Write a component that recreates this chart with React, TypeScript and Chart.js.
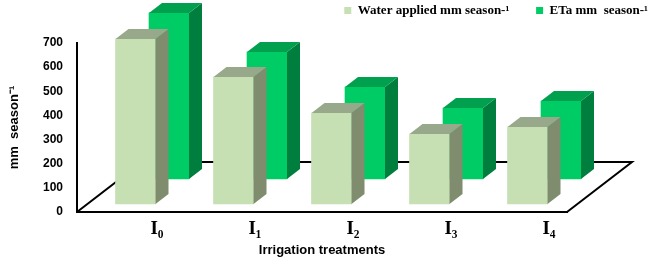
import { useEffect, useRef } from 'react';
import { Chart, registerables } from 'chart.js';

Chart.register(...registerables);

const categories = ['I₀', 'I₁', 'I₂', 'I₃', 'I₄'];
const waterApplied = [683, 526, 377, 290, 319];
const etaValues = [688, 526, 381, 294, 323];
const seriesLabels = ['Water applied mm season-¹', 'ETa mm  season-¹'];
const yMin = 0;
const yMax = 700;
const yStep = 100;

const FRONT = ['#C6E0B4', '#00CC66'];
const SIDE = ['#7F8C6D', '#007E3D'];
const TOP = ['#97A98A', '#00A04F'];
const SHIFT = [
  { dx: 9.5, dy: -8 },
  { dx: 43, dy: -33 },
];
const BAR_DEPTH = { dx: 13, dy: 10 };
const FLOOR_DEPTH = { dx: 65, dy: -50 };

const bar3d = {
  id: 'bar3d',
  beforeDatasetsDraw(chart: any) {
    const { ctx, chartArea: a } = chart;
    ctx.save();
    ctx.beginPath();
    ctx.moveTo(a.left, a.bottom);
    ctx.lineTo(a.left + FLOOR_DEPTH.dx, a.bottom + FLOOR_DEPTH.dy);
    ctx.lineTo(a.right + FLOOR_DEPTH.dx, a.bottom + FLOOR_DEPTH.dy);
    ctx.lineTo(a.right, a.bottom);
    ctx.strokeStyle = '#000';
    ctx.lineWidth = 2;
    ctx.lineJoin = 'miter';
    ctx.stroke();
    ctx.restore();
  },
  beforeDatasetDraw(chart: any, args: any) {
    const s = SHIFT[args.index];
    chart.ctx.save();
    chart.ctx.translate(s.dx, s.dy);
  },
  afterDatasetDraw(chart: any, args: any) {
    const ctx = chart.ctx;
    const i = args.index;
    const { dx, dy } = BAR_DEPTH;
    args.meta.data.forEach((el: any) => {
      const { x, y, base, width } = el.getProps(['x', 'y', 'base', 'width'], true);
      const l = x - width / 2;
      const r = x + width / 2;
      ctx.fillStyle = SIDE[i];
      ctx.beginPath();
      ctx.moveTo(r, y);
      ctx.lineTo(r + dx, y - dy);
      ctx.lineTo(r + dx, base - dy);
      ctx.lineTo(r, base);
      ctx.closePath();
      ctx.fill();
      ctx.fillStyle = TOP[i];
      ctx.beginPath();
      ctx.moveTo(l, y);
      ctx.lineTo(l + dx, y - dy);
      ctx.lineTo(r + dx, y - dy);
      ctx.lineTo(r, y);
      ctx.closePath();
      ctx.fill();
    });
    ctx.restore();
  },
};

export default function App() {
  const ref = useRef<HTMLCanvasElement | null>(null);

  useEffect(() => {
    document.body.style.margin = '0';
    const canvas = ref.current;
    if (!canvas) return;
    const chart = new Chart(canvas, {
      type: 'bar',
      data: {
        labels: categories,
        datasets: [
          {
            label: seriesLabels[0],
            data: waterApplied,
            backgroundColor: FRONT[0],
            borderWidth: 0,
            barThickness: 40,
            grouped: false,
            clip: false,
          } as any,
          {
            label: seriesLabels[1],
            data: etaValues,
            backgroundColor: FRONT[1],
            borderWidth: 0,
            barThickness: 40,
            grouped: false,
            clip: false,
          } as any,
        ],
      },
      options: {
        responsive: false,
        maintainAspectRatio: false,
        animation: false,
        devicePixelRatio: 1,
        layout: { padding: 0 },
        plugins: {
          tooltip: { enabled: false },
          legend: {
            display: true,
            position: 'top',
            align: 'end',
            labels: {
              boxWidth: 7,
              boxHeight: 7,
              padding: 4,
              color: '#000',
              font: { family: 'Liberation Serif', weight: 'bold', size: 13 },
              generateLabels: (c: any) => {
                const items = (Chart.defaults.plugins.legend.labels as any).generateLabels(c);
                if (items[0]) items[0].text = items[0].text + '\u00A0'.repeat(7);
                return items;
              },
            },
          },
          subtitle: {
            display: true,
            text: '',
            position: 'top',
            weight: 500,
            padding: 0,
            font: { size: 16, lineHeight: 1 },
          } as any,
        },
        scales: {
          x: {
            grid: { display: false, drawTicks: false },
            border: { display: true, color: '#000', width: 2 },
            ticks: {
              labelOffset: 31,
              padding: 6,
              color: '#000',
              autoSkip: false,
              maxRotation: 0,
              font: { family: 'Liberation Serif', weight: 'bold', size: 19 },
            },
            title: {
              display: true,
              text: 'Irrigation treatments',
              color: '#000',
              font: { family: 'Liberation Sans', weight: 'bold', size: 13 },
              padding: { top: 0, bottom: 1 },
            },
            afterFit: (s: any) => {
              s.height = 47;
            },
          },
          y: {
            min: yMin,
            max: yMax,
            grid: { display: false, drawTicks: false },
            border: { display: true, color: '#000', width: 2 },
            ticks: {
              stepSize: yStep,
              padding: 14,
              color: '#000',
              font: { family: 'Liberation Sans', weight: 'bold', size: 12 },
            },
            title: {
              display: true,
              text: 'mm  season⁻¹',
              color: '#000',
              font: { family: 'Liberation Sans', weight: 'bold', size: 13 },
              padding: { top: 7, bottom: 0 },
            },
            afterFit: (s: any) => {
              s.width = 77;
            },
          },
          yR: {
            position: 'right',
            display: true,
            grid: { display: false, drawTicks: false },
            border: { display: false },
            ticks: { display: false },
            afterFit: (s: any) => {
              s.width = 85;
            },
          },
        },
      } as any,
      plugins: [bar3d],
    });
    return () => chart.destroy();
  }, []);

  return (
    <div style={{ position: 'absolute', left: 0, top: 0, width: 652, height: 259 }}>
      <canvas ref={ref} width={652} height={259} style={{ display: 'block', width: 652, height: 259 }} />
    </div>
  );
}
